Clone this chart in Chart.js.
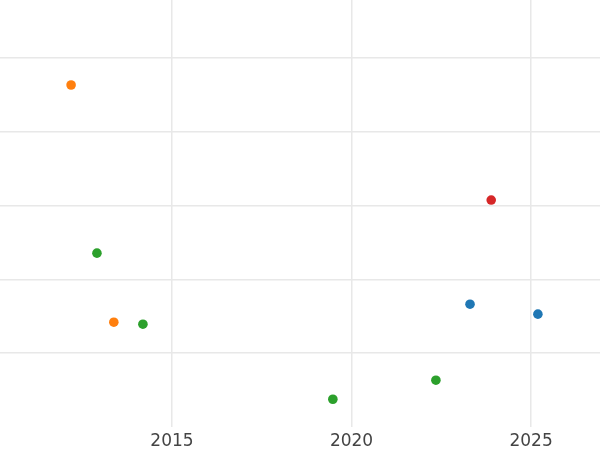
<!DOCTYPE html>
<html lang="en">
    <head>
        <meta charset="UTF-8" />
        <title>Scatter</title>
        <script src="https://cdn.jsdelivr.net/npm/chart.js"></script>
        <style>
            body { margin: 0; background: #fff; }
        </style>
    </head>
    <body>
        <canvas id="grafico" width="600" height="450"></canvas>

        <script>
            // Series (year, value)
            const blueX = [2023.3, 2025.19];
            const blueY = [1.664, 1.529];
            const orangeX = [2012.19, 2013.38];
            const orangeY = [4.634, 1.42];
            const greenX = [2012.91, 2014.19, 2019.48, 2022.35];
            const greenY = [2.356, 1.393, 0.376, 0.634];
            const redX = [2023.89];
            const redY = [3.075];

            // Tick positions
            const xTicks = [2015, 2020, 2025];
            const yTicks = [1, 2, 3, 4, 5];

            function puntos(xs, ys) {
                return xs.map((x, i) => ({ x: x, y: ys[i] }));
            }

            function serie(nombre, xs, ys, color) {
                return {
                    label: nombre,
                    data: puntos(xs, ys),
                    backgroundColor: color,
                    borderColor: color,
                    borderWidth: 0,
                    pointRadius: 4.8,
                    pointHoverRadius: 4.8,
                };
            }

            const ctx = document.getElementById("grafico").getContext("2d");
            new Chart(ctx, {
                type: "scatter",
                data: {
                    datasets: [
                        serie("blue", blueX, blueY, "#1f77b4"),
                        serie("orange", orangeX, orangeY, "#ff7f0e"),
                        serie("green", greenX, greenY, "#2ca02c"),
                        serie("red", redX, redY, "#d62728"),
                    ],
                },
                options: {
                    responsive: false,
                    animation: false,
                    layout: { padding: 0, autoPadding: false },
                    plugins: {
                        legend: { display: false },
                        tooltip: { enabled: false },
                    },
                    scales: {
                        x: {
                            type: "linear",
                            min: 2010.21,
                            max: 2026.92,
                            afterBuildTicks: (axis) => {
                                axis.ticks = xTicks.map((v) => ({ value: v }));
                            },
                            afterFit: (axis) => {
                                axis.height = 23;
                            },
                            border: { display: false },
                            grid: { color: "#e8e8e8", lineWidth: 1.5, drawTicks: false },
                            ticks: {
                                padding: 4,
                                color: "#444444",
                                font: { family: "DejaVu Sans", size: 17, lineHeight: 1.2 },
                                callback: (v) => String(v),
                            },
                        },
                        y: {
                            type: "linear",
                            min: 0,
                            max: 5.786,
                            afterBuildTicks: (axis) => {
                                axis.ticks = yTicks.map((v) => ({ value: v }));
                            },
                            border: { display: false },
                            grid: { color: "#e8e8e8", lineWidth: 1.5, drawTicks: false },
                            ticks: { display: false },
                        },
                    },
                },
            });
        </script>
    </body>
</html>
